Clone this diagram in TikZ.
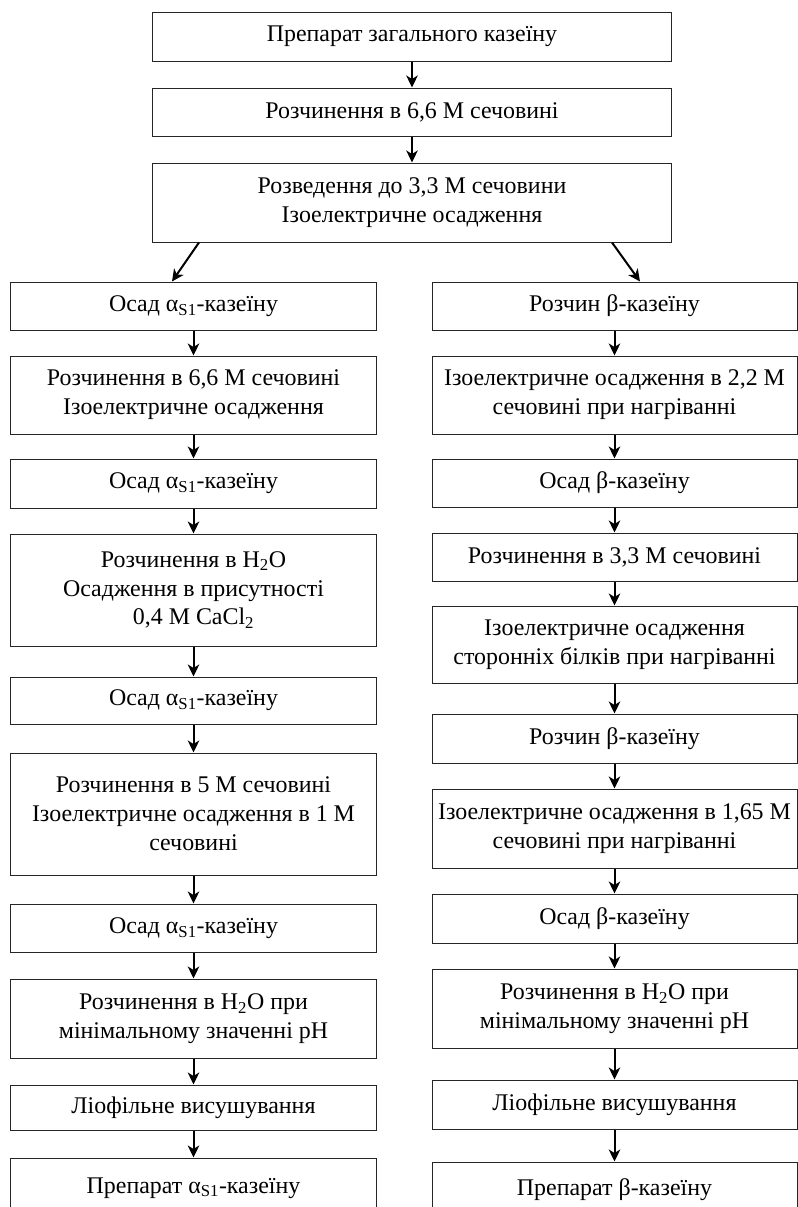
\documentclass[tikz,border=0pt]{standalone}
\usepackage{fontspec}
\setmainfont{Liberation Serif}
\usetikzlibrary{arrows.meta}
\tikzset{
  stagebox/.style={draw=black!85, line width=1bp, inner sep=0pt, align=center,
    font=\fontsize{24}{29}\selectfont},
  arr/.style={line width=2bp, -{Stealth[length=12bp, width=11.5bp, inset=3.5bp]}},
}
\newcommand{\bx}[6]{% name, x1, y1, x2, y2, text
  \pgfmathsetmacro{\cxx}{(#2+#4)/2}\pgfmathsetmacro{\cyy}{(#3+#5)/2}%
  \pgfmathsetmacro{\wdd}{#4-#2}\pgfmathsetmacro{\htt}{#5-#3}%
  \node[stagebox, minimum width=\wdd bp, minimum height=\htt bp] (#1) at (\cxx,\cyy) {#6};}
\begin{document}
\begin{tikzpicture}[x=1bp, y=-1bp]
\useasboundingbox (0,0) rectangle (798,1207);
\clip (0,0) rectangle (798,1207);
% top
\bx{T1}{153}{12}{671}{61}{Препарат загального казеїну}
\bx{T2}{153}{88}{671}{136}{Розчинення в 6,6 М сечовині}
\bx{T3}{153}{163}{671}{242}{Розведення до 3,3 М сечовини\\Ізоелектричне осадження}
% left
\bx{L1}{11}{282}{376}{330}{Осад α\textsubscript{S1}-казеїну}
\bx{L2}{11}{356}{376}{434}{Розчинення в 6,6 М сечовині\\Ізоелектричне осадження}
\bx{L3}{11}{459}{376}{508}{Осад α\textsubscript{S1}-казеїну}
\bx{L4}{11}{534}{376}{646}{Розчинення в H\textsubscript{2}O\\Осадження в присутності\\0,4 М CaCl\textsubscript{2}}
\bx{L5}{11}{677}{376}{724}{Осад α\textsubscript{S1}-казеїну}
\bx{L6}{11}{753}{376}{875}{Розчинення в 5 М сечовині\\Ізоелектричне осадження в 1 М\\сечовині}
\bx{L7}{11}{904}{376}{952}{Осад α\textsubscript{S1}-казеїну}
\bx{L8}{11}{979}{376}{1058}{Розчинення в H\textsubscript{2}O при\\мінімальному значенні pH}
\bx{L9}{11}{1085}{376}{1130}{Ліофільне висушування}
\bx{L10}{11}{1158}{376}{1218}{Препарат α\textsubscript{S1}-казеїну}
% right
\bx{R1}{432}{282}{797}{330}{Розчин β-казеїну}
\bx{R2}{432}{356}{797}{434}{Ізоелектричне осадження в 2,2 М\\сечовині при нагріванні}
\bx{R3}{432}{459}{797}{507}{Осад β-казеїну}
\bx{R4}{432}{533}{797}{581}{Розчинення в 3,3 М сечовині}
\bx{R5}{432}{606}{797}{683}{Ізоелектричне осадження\\сторонніх білків при нагріванні}
\bx{R6}{432}{714}{797}{763}{Розчин β-казеїну}
\bx{R7}{432}{789}{797}{868}{Ізоелектричне осадження в 1,65 М\\сечовині при нагріванні}
\bx{R8}{432}{894}{797}{943}{Осад β-казеїну}
\bx{R9}{432}{969}{797}{1048}{Розчинення в H\textsubscript{2}O при\\мінімальному значенні pH}
\bx{R10}{432}{1080}{797}{1129}{Ліофільне висушування}
\bx{R11}{432}{1162}{797}{1218}{Препарат β-казеїну}
% arrows
\draw[arr] (T1) -- (T2);
\draw[arr] (T2) -- (T3);
\draw[arr] ([xshift=-213bp]T3.south) -- ([xshift=-21.5bp]L1.north);
\draw[arr] ([xshift=200bp]T3.south) -- ([xshift=25.5bp]R1.north);
\foreach \a/\b in {L1/L2,L2/L3,L3/L4,L4/L5,L5/L6,L6/L7,L7/L8,L8/L9,L9/L10,
  R1/R2,R2/R3,R3/R4,R4/R5,R5/R6,R6/R7,R7/R8,R8/R9,R9/R10,R10/R11}
  \draw[arr] (\a.south) -- (\b.north);
\end{tikzpicture}
\end{document}
